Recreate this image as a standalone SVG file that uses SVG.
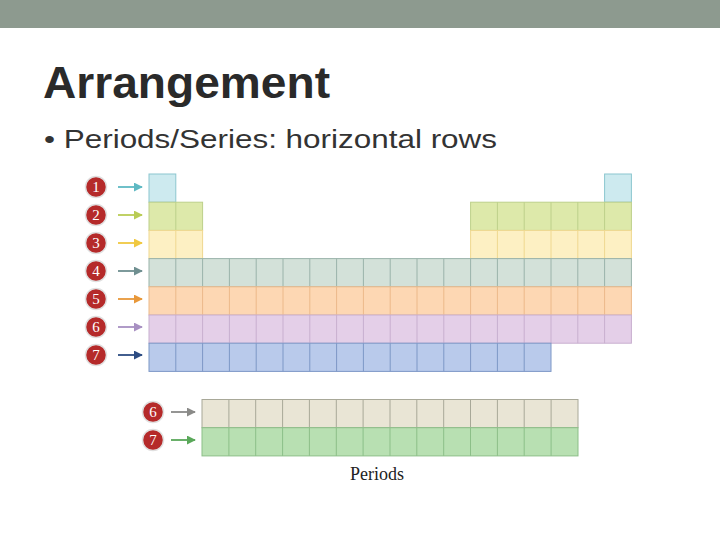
<svg xmlns="http://www.w3.org/2000/svg" width="720" height="540" viewBox="0 0 720 540">
<defs>
<style>
.c{stroke-width:1}
.n{font-family:"Liberation Serif",serif;font-size:15px;fill:#fff;text-anchor:middle}
.ci{fill:#b52a2a;stroke:#e0e0e0;stroke-width:1.5}
.a{stroke-width:1.8;fill:none}
</style>
<radialGradient id="g" cx="0.4" cy="0.35" r="0.7"><stop offset="0" stop-color="#d8524a"/><stop offset="1" stop-color="#8a1818"/></radialGradient>
<marker id="m" viewBox="0 0 10 10" refX="9" refY="5" markerWidth="5" markerHeight="5" orient="auto"><path d="M0,0L10,5L0,10z" fill="context-stroke"/></marker>
</defs>
<rect width="720" height="540" fill="#fff"/>
<rect width="720" height="28" fill="#8d9a8f"/>
<text x="43" y="98" font-family="Liberation Sans,Arial,sans-serif" font-weight="bold" font-size="44" fill="#2a2a2a" textLength="287" lengthAdjust="spacingAndGlyphs">Arrangement</text>
<text x="44" y="148" font-family="Liberation Sans,Arial,sans-serif" font-size="26" fill="#333" textLength="453" lengthAdjust="spacingAndGlyphs">• Periods/Series: horizontal rows</text>

<g id="table">
<g id="row1" stroke="#8cc6cf" fill="#cdeaef"><rect x="149" y="174" width="26.8" height="28.2"/><rect x="604.6" y="174" width="26.8" height="28.2"/></g>
<g id="row2" stroke="#bdd08a" fill="#dde9aa"><rect x="149" y="202.2" width="53.6" height="28.2"/><rect x="470.6" y="202.2" width="160.8" height="28.2"/><path d="M175.8 202.2v28.2M497.4 202.2v28.2M524.2 202.2v28.2M551 202.2v28.2M577.8 202.2v28.2M604.6 202.2v28.2"/></g>
<g id="row3" stroke="#efd890" fill="#fdf0c3"><rect x="149" y="230.4" width="53.6" height="28.2"/><rect x="470.6" y="230.4" width="160.8" height="28.2"/><path d="M175.8 230.4v28.2M497.4 230.4v28.2M524.2 230.4v28.2M551 230.4v28.2M577.8 230.4v28.2M604.6 230.4v28.2"/></g>
<g id="row4" stroke="#9ab3aa" fill="#d3e1d9"><rect x="149" y="258.6" width="482.4" height="28.2"/><path d="M175.8 258.6v28.2M202.6 258.6v28.2M229.4 258.6v28.2M256.2 258.6v28.2M283 258.6v28.2M309.8 258.6v28.2M336.6 258.6v28.2M363.4 258.6v28.2M390.2 258.6v28.2M417 258.6v28.2M443.8 258.6v28.2M470.6 258.6v28.2M497.4 258.6v28.2M524.2 258.6v28.2M551 258.6v28.2M577.8 258.6v28.2M604.6 258.6v28.2"/></g>
<g id="row5" stroke="#ecb98a" fill="#fdd7b3"><rect x="149" y="286.8" width="482.4" height="28.2"/><path d="M175.8 286.8v28.2M202.6 286.8v28.2M229.4 286.8v28.2M256.2 286.8v28.2M283 286.8v28.2M309.8 286.8v28.2M336.6 286.8v28.2M363.4 286.8v28.2M390.2 286.8v28.2M417 286.8v28.2M443.8 286.8v28.2M470.6 286.8v28.2M497.4 286.8v28.2M524.2 286.8v28.2M551 286.8v28.2M577.8 286.8v28.2M604.6 286.8v28.2"/></g>
<g id="row6" stroke="#c8afcf" fill="#e4cfe8"><rect x="149" y="315" width="482.4" height="28.2"/><path d="M175.8 315v28.2M202.6 315v28.2M229.4 315v28.2M256.2 315v28.2M283 315v28.2M309.8 315v28.2M336.6 315v28.2M363.4 315v28.2M390.2 315v28.2M417 315v28.2M443.8 315v28.2M470.6 315v28.2M497.4 315v28.2M524.2 315v28.2M551 315v28.2M577.8 315v28.2M604.6 315v28.2"/></g>
<g id="row7" stroke="#7d97c6" fill="#b9caeb"><rect x="149" y="343.2" width="402" height="28.2"/><path d="M175.8 343.2v28.2M202.6 343.2v28.2M229.4 343.2v28.2M256.2 343.2v28.2M283 343.2v28.2M309.8 343.2v28.2M336.6 343.2v28.2M363.4 343.2v28.2M390.2 343.2v28.2M417 343.2v28.2M443.8 343.2v28.2M470.6 343.2v28.2M497.4 343.2v28.2M524.2 343.2v28.2"/></g>
<g id="lrow6" stroke="#a8a898" fill="#e9e5d5"><rect x="202" y="399.5" width="376" height="28.2"/><path d="M228.9 399.5v28.2M255.7 399.5v28.2M282.6 399.5v28.2M309.4 399.5v28.2M336.3 399.5v28.2M363.1 399.5v28.2M390 399.5v28.2M416.8 399.5v28.2M443.7 399.5v28.2M470.5 399.5v28.2M497.4 399.5v28.2M524.2 399.5v28.2M551.1 399.5v28.2"/></g>
<g id="lrow7" stroke="#8cbf88" fill="#b8e0b2"><rect x="202" y="427.7" width="376" height="28.2"/><path d="M228.9 427.7v28.2M255.7 427.7v28.2M282.6 427.7v28.2M309.4 427.7v28.2M336.3 427.7v28.2M363.1 427.7v28.2M390 427.7v28.2M416.8 427.7v28.2M443.7 427.7v28.2M470.5 427.7v28.2M497.4 427.7v28.2M524.2 427.7v28.2M551.1 427.7v28.2"/></g>
</g>

<g id="connectors">
<path class="a" stroke="#5fb9c3" marker-end="url(#m)" d="M118 187H142"/>
<path class="a" stroke="#b9cc55" marker-end="url(#m)" d="M118 215H142"/>
<path class="a" stroke="#f0c840" marker-end="url(#m)" d="M118 243H142"/>
<path class="a" stroke="#6f8f90" marker-end="url(#m)" d="M118 271H142"/>
<path class="a" stroke="#e8983a" marker-end="url(#m)" d="M118 299H142"/>
<path class="a" stroke="#a890c2" marker-end="url(#m)" d="M118 327H142"/>
<path class="a" stroke="#2d4c82" marker-end="url(#m)" d="M118 355H142"/>
<path class="a" stroke="#8a8a88" marker-end="url(#m)" d="M171 412H195"/>
<path class="a" stroke="#5aa85a" marker-end="url(#m)" d="M171 440H195"/>
</g>

<g id="labels">
<g id="n1"><circle class="ci" cx="96" cy="187" r="10.5" fill="url(#g)"/><text class="n" x="96" y="192">1</text></g>
<g id="n2"><circle class="ci" cx="96" cy="215" r="10.5" fill="url(#g)"/><text class="n" x="96" y="220">2</text></g>
<g id="n3"><circle class="ci" cx="96" cy="243" r="10.5" fill="url(#g)"/><text class="n" x="96" y="248">3</text></g>
<g id="n4"><circle class="ci" cx="96" cy="271" r="10.5" fill="url(#g)"/><text class="n" x="96" y="276">4</text></g>
<g id="n5"><circle class="ci" cx="96" cy="299" r="10.5" fill="url(#g)"/><text class="n" x="96" y="304">5</text></g>
<g id="n6"><circle class="ci" cx="96" cy="327" r="10.5" fill="url(#g)"/><text class="n" x="96" y="332">6</text></g>
<g id="n7"><circle class="ci" cx="96" cy="355" r="10.5" fill="url(#g)"/><text class="n" x="96" y="360">7</text></g>
<g id="n6b"><circle class="ci" cx="153" cy="412" r="10.5" fill="url(#g)"/><text class="n" x="153" y="417">6</text></g>
<g id="n7b"><circle class="ci" cx="153" cy="440" r="10.5" fill="url(#g)"/><text class="n" x="153" y="445">7</text></g>
<text x="377" y="480" font-family="Liberation Serif,serif" font-size="18" fill="#222" text-anchor="middle">Periods</text>
</g>
</svg>
